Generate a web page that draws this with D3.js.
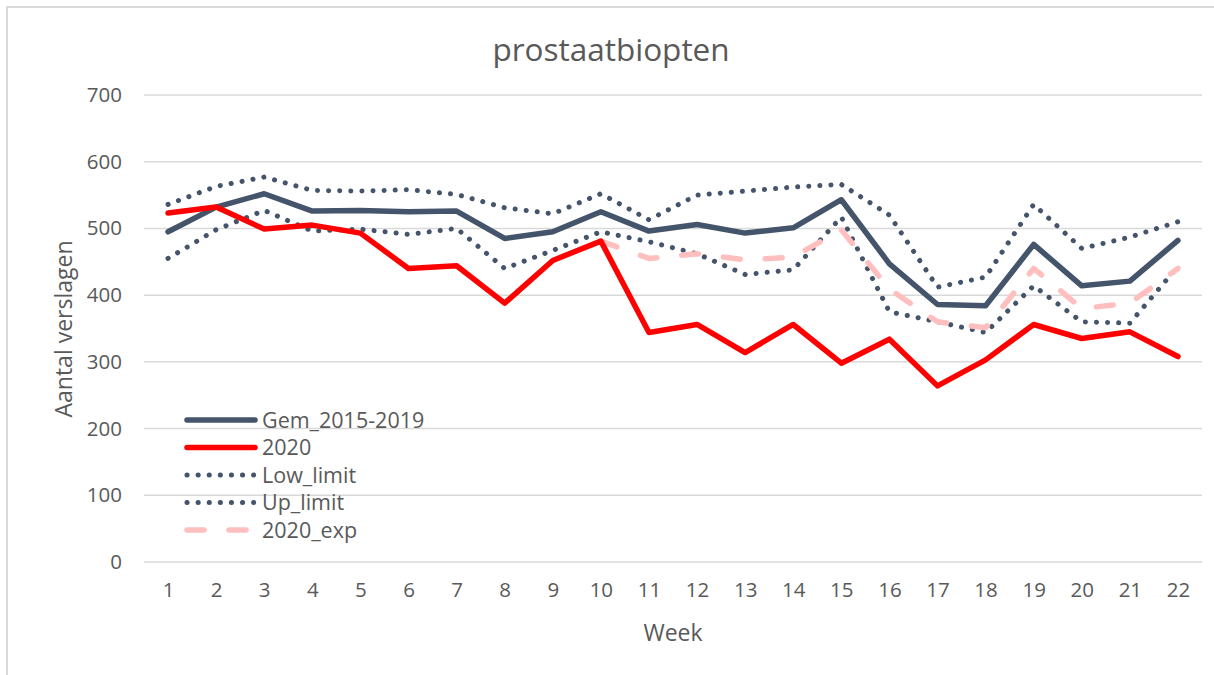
<!DOCTYPE html>
<html>
<head>
<meta charset="utf-8">
<script src="https://cdn.jsdelivr.net/npm/d3@7"></script>
<style>
  body { margin: 0; background: #fff; }
  svg text { font-family: "Open Sans", sans-serif; fill: #595959; }
</style>
</head>
<body>
<script>
// data
var weeks = [1, 2, 3, 4, 5, 6, 7, 8, 9, 10, 11, 12, 13, 14, 15, 16, 17, 18, 19, 20, 21, 22];
var gem = [495, 532, 552, 526, 527, 525, 526, 485, 495, 525, 496, 506, 493, 501, 543, 447, 386, 384, 476, 414, 421, 482];
var y2020 = [523, 532, 499, 505, 493, 440, 444, 388, 452, 481, 344, 356, 314, 356, 298, 334, 264, 303, 356, 335, 345, 308];
var lowLimit = [455, 498, 527, 496, 499, 491, 500, 440, 467, 495, 480, 462, 431, 438, 517, 375, 360, 344, 414, 360, 358, 443];
var upLimit = [536, 563, 577, 557, 556, 558, 551, 531, 522, 552, 513, 550, 556, 562, 566, 520, 412, 427, 536, 470, 487, 510];
var expWeeks = [10, 11, 12, 13, 14, 15, 16, 17, 18, 19, 20, 21, 22];
var exp2020 = [481, 455, 462, 453, 457, 498, 409, 360, 351, 440, 380, 388, 440];
var yTicks = [0, 100, 200, 300, 400, 500, 600, 700];

var width = 1214, height = 675;
var plotLeft = 144, plotRight = 1202, plotTop = 95, plotBottom = 562;

var svg = d3.select("body").append("svg")
  .attr("width", width)
  .attr("height", height);

// chart border
svg.append("path")
  .attr("d", "M7," + height + "V7H" + width)
  .attr("fill", "none")
  .attr("stroke", "#d9d9d9")
  .attr("stroke-width", 2);

var x = d3.scalePoint().domain(weeks).range([plotLeft, plotRight]).padding(0.5);
var y = d3.scaleLinear().domain([0, 700]).range([plotBottom, plotTop]);

// grid lines
svg.append("g")
  .selectAll("line")
  .data(yTicks)
  .enter()
  .append("line")
  .attr("x1", plotLeft)
  .attr("x2", plotRight)
  .attr("y1", function (d) { return y(d); })
  .attr("y2", function (d) { return y(d); })
  .attr("stroke", "#d9d9d9")
  .attr("stroke-width", 1.5);

var yAxis = svg.append("g")
  .attr("transform", "translate(" + plotLeft + ",0)")
  .call(d3.axisLeft(y).tickValues(yTicks).tickSize(0).tickPadding(22));
yAxis.select(".domain").remove();
yAxis.selectAll("text").style("font-size", "20.5px").attr("fill", "#595959");

var xAxis = svg.append("g")
  .attr("transform", "translate(0," + plotBottom + ")")
  .call(d3.axisBottom(x).tickSize(0).tickPadding(20));
xAxis.select(".domain").remove();
xAxis.selectAll("text").style("font-size", "20.5px").attr("fill", "#595959");

svg.append("text")
  .attr("x", 611)
  .attr("y", 61)
  .attr("text-anchor", "middle")
  .style("font-size", "31.5px")
  .text("prostaatbiopten");

svg.append("text")
  .attr("x", (plotLeft + plotRight) / 2)
  .attr("y", 641)
  .attr("text-anchor", "middle")
  .style("font-size", "23px")
  .text("Week");

svg.append("text")
  .attr("transform", "translate(72,329) rotate(-90)")
  .attr("text-anchor", "middle")
  .style("font-size", "23px")
  .text("Aantal verslagen");

var line = d3.line()
  .x(function (d) { return x(d[0]); })
  .y(function (d) { return y(d[1]); });

var series = [
  { name: "Up_limit", xs: weeks, vals: upLimit, color: "#44546a", width: 5, dash: "0.1 11" },
  { name: "Low_limit", xs: weeks, vals: lowLimit, color: "#44546a", width: 5, dash: "0.1 11" },
  { name: "2020_exp", xs: expWeeks, vals: exp2020, color: "#ffbfbf", width: 5.5, dash: "17 25" },
  { name: "Gem_2015-2019", xs: weeks, vals: gem, color: "#44546a", width: 5.5, dash: null },
  { name: "2020", xs: weeks, vals: y2020, color: "#ff0000", width: 5.5, dash: null }
];

series.forEach(function (s) {
  svg.append("path")
    .datum(s.xs.map(function (w, i) { return [w, s.vals[i]]; }))
    .attr("d", line)
    .attr("fill", "none")
    .attr("stroke", s.color)
    .attr("stroke-width", s.width)
    .attr("stroke-dasharray", s.dash)
    .attr("stroke-linecap", "round")
    .attr("stroke-linejoin", "round");
});

// legend
var legendOrder = ["Gem_2015-2019", "2020", "Low_limit", "Up_limit", "2020_exp"];
var legend = svg.append("g").attr("transform", "translate(185,420)");
legendOrder.forEach(function (name, i) {
  var s = series.find(function (d) { return d.name === name; });
  var row = legend.append("g").attr("transform", "translate(0," + i * 27.5 + ")");
  row.append("line")
    .attr("x1", 2)
    .attr("x2", 70)
    .attr("stroke", s.color)
    .attr("stroke-width", s.width)
    .attr("stroke-dasharray", s.dash)
    .attr("stroke-linecap", "round");
  row.append("text")
    .attr("x", 77)
    .attr("y", 7.5)
    .style("font-size", "21.5px")
    .text(name);
});
</script>
</body>
</html>
